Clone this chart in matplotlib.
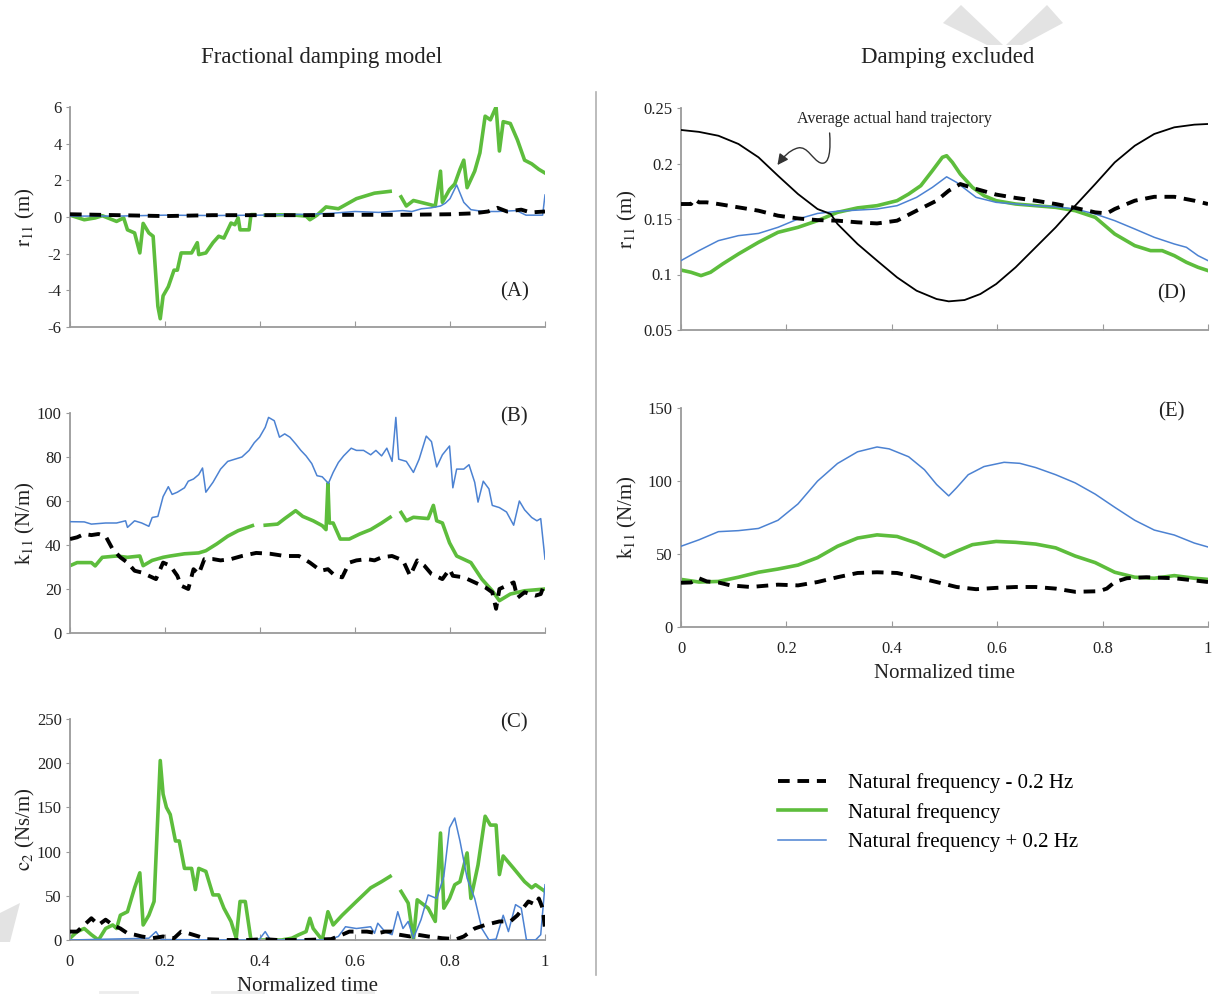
import numpy as np
import matplotlib
matplotlib.use("Agg")
import matplotlib.pyplot as plt
from matplotlib.lines import Line2D
from matplotlib.patches import FancyArrowPatch, Polygon
from matplotlib.path import Path

plt.rcParams["font.family"] = ["Liberation Serif", "DejaVu Serif"]
plt.rcParams["mathtext.fontset"] = "stix"
plt.rcParams["axes.unicode_minus"] = False

nan = np.nan

# ---- (A) r11, fractional damping model ----
a_green_t = [0, .03, .053, .068, .098, .113, .121, .136, .147, .154,
             .166, .175, .185, .19, .196, .207, .219, .226, .234, .256,
             .268, .271, .286, .301, .313, .324, .339, .347, .354, .358,
             .377, .381, .388, .40, .411, .445, .475, .497, .505, .52,
             .539, .565, .603, .641, .674, .685, .697, .708, .723, .754,
             .769, .78, .784, .799, .81, .821, .829, .836, .852, .863,
             .874, .885, .897, .904, .912, .927, .942, .957, .972, .987,
             1.0]
a_green = [0.1, -0.15, -0.05, 0.07, -0.24, -0.05, -0.7, -0.87, -1.96, -0.35,
           -0.87, -1.05, -4.87, -5.55, -4.3, -3.8, -2.9, -2.9, -1.96, -1.96,
           -1.4, -2.05, -1.96, -1.4, -1.05, -1.15, -0.33, -0.42, -0.05, -0.7,
           -0.7, 0.13, 0.13, nan, 0.1, 0.12, 0.1, 0.05, -0.15, 0.1,
           0.55, 0.45, 1.0, 1.3, 1.4, nan, 1.1, 0.6, 0.9, 0.7,
           0.6, 2.5, 0.8, 1.5, 1.8, 2.6, 3.1, 1.6, 2.5, 3.5,
           5.5, 5.3, 6.0, 3.6, 5.2, 5.1, 4.2, 3.1, 2.9, 2.6,
           2.4]
a_blue_t = [0, .1, .2, .3, .4, .5, .55, .6, .65, .7,
            .72, .74, .76, .78, .79, .80, .814, .829, .844, .87,
            .9, .94, .96, .98, .995, 1.0]
a_blue = [0.05, 0.05, 0.1, 0.08, 0.1, 0.15, 0.2, 0.3, 0.25, 0.35,
          0.3, 0.45, 0.5, 0.6, 0.75, 1.0, 1.75, 0.8, 0.4, 0.3,
          0.3, 0.35, 0.1, 0.1, 0.1, 1.2]
a_black_t = [0, .1, .2, .3, .4, .5, .6, .7, .8, .85,
             .88, .9, .92, .95, .97, 1.0]
a_black = [0.15, 0.1, 0.05, 0.1, 0.1, 0.1, 0.12, 0.12, 0.15, 0.2,
           0.3, 0.5, 0.3, 0.4, 0.25, 0.3]

# ---- (B) k11, fractional damping model ----
b_blue_t = [0, .03, .045, .075, .098, .117, .121, .136, .151, .166,
            .173, .185, .196, .207, .215, .226, .241, .249, .26, .271,
            .279, .286, .301, .317, .332, .347, .362, .377, .388, .399,
            .411, .418, .43, .441, .452, .463, .475, .486, .497, .509,
            .52, .531, .544, .554, .565, .576, .592, .603, .618, .633,
            .644, .656, .667, .678, .686, .692, .708, .723, .735, .75,
            .761, .772, .784, .799, .806, .814, .829, .84, .852, .859,
            .87, .882, .889, .904, .919, .934, .946, .957, .972, .983,
            .991, 1.0]
b_blue = [50.6, 50.5, 49.5, 50, 50, 51, 48, 51, 50, 48.5,
          52.5, 53, 62, 66.5, 63, 64, 66, 69, 70, 72,
          75, 64, 68.5, 74.5, 78, 79, 80, 83, 86.5, 89,
          93.5, 98, 96.5, 89, 90.5, 89, 86, 83, 80.5, 77,
          71.5, 71, 68, 73, 77.5, 80.5, 84, 83, 83, 81,
          83, 80.5, 84, 78, 98, 79, 78, 73, 79, 89.5,
          87, 75.5, 81, 85, 66, 74.5, 74.5, 76.5, 68.5, 59.5,
          69, 65.5, 58, 57, 55, 49, 60, 56, 52.5, 51,
          52, 33.6]
b_green_t = [0, .015, .045, .053, .068, .098, .121, .147, .154, .173,
             .196, .211, .241, .271, .286, .309, .332, .354, .384, .398,
             .411, .437, .452, .475, .49, .512, .531, .539, .543, .546,
             .554, .569, .588, .61, .633, .656, .674, .685, .697, .708,
             .723, .754, .765, .772, .784, .799, .814, .844, .867, .889,
             .904, .927, .957, 1.0]
b_green = [30.6, 32, 32, 30.5, 34.4, 35, 34.4, 35, 30.6, 33,
           34.4, 35, 36, 36.4, 37.4, 40.5, 44, 46.5, 48.8, nan,
           49, 49.5, 52, 55.6, 53, 51, 48.8, 47, 68, 50,
           50, 42.7, 42.7, 45, 47, 50, 52.6, nan, 54.8, 51,
           52.6, 52, 58, 51, 50, 41, 35, 32, 24.5, 19.2,
           14.7, 17.7, 19.2, 20]
b_black_t = [0, .015, .03, .045, .06, .075, .09, .106, .121, .136,
             .151, .166, .181, .196, .211, .226, .234, .249, .26, .271,
             .283, .301, .317, .339, .362, .392, .422, .452, .482, .505,
             .528, .543, .558, .573, .588, .603, .625, .641, .656, .678,
             .701, .716, .731, .746, .761, .784, .799, .806, .829, .852,
             .874, .889, .897, .904, .919, .934, .942, .957, .98, .991,
             1.0]
b_black = [42.7, 43.5, 45, 44.5, 45, 44, 38, 34.4, 32, 28.3,
           27.5, 26, 24.5, 32, 30.6, 26, 21.5, 20, 29, 26.8,
           33.6, 33.6, 33, 33.6, 35, 36.4, 36, 35, 35, 32,
           28.3, 29, 26, 25.3, 32, 33, 33.6, 33, 34.4, 35,
           33, 26, 33, 30.6, 26.8, 24.5, 29, 26, 25.3, 23,
           20.8, 18.5, 11, 20, 21.5, 23, 16, 18.5, 17, 17.7,
           23]

# ---- (C) c2, fractional damping model ----
c_green_t = [0, .015, .03, .045, .06, .075, .09, .098, .106, .121,
             .136, .147, .154, .166, .177, .19, .196, .203, .211, .222,
             .23, .241, .256, .264, .271, .286, .301, .313, .324, .339,
             .35, .358, .369, .381, .445, .467, .482, .497, .505, .512,
             .531, .543, .554, .573, .603, .633, .656, .674, .685, .697,
             .712, .723, .731, .754, .769, .78, .787, .799, .81, .821,
             .836, .844, .859, .874, .885, .897, .904, .912, .934, .957,
             .972, .98, 1.0]
c_green = [2, 9.5, 13, 6, 0, 13, 17, 13, 28, 32,
           59, 76, 17, 28, 43.6, 203, 165, 150, 142, 112,
           112, 81, 81, 57, 81, 77.6, 51, 51, 36, 21,
           2, 43.6, 43.6, 0, 0, 2, 6, 9.5, 24.6, 13,
           0, 32, 17, 28, 43.6, 59, 66, 72, nan, 55,
           41.7, 0, 45.5, 36, 21, 121, 36, 47, 62.5, 66,
           98.5, 47, 85, 140, 130, 130, 74, 95, 81, 66,
           59, 62.5, 55]
c_blue_t = [0, .166, .181, .192, .377, .399, .411, .422, .543, .565,
            .58, .603, .633, .641, .648, .663, .678, .69, .701, .712,
            .723, .739, .754, .772, .787, .799, .81, .821, .836, .852,
            .867, .882, .897, .912, .923, .938, .95, .961, .98, .991,
            1.0]
c_blue = [0, 2, 9.5, 0.5, 0, 1, 9.5, 0, 0, 4,
          15, 13, 15, 7.6, 19, 9.5, 6, 32, 13, 21,
          2, 23, 51, 47, 72, 127, 138, 112, 70, 47,
          13, 0, 1, 28, 9.5, 40, 36, 0, 0, 6,
          62.5]
c_black_t = [0, .015, .03, .045, .06, .075, .09, .106, .121, .136,
             .151, .173, .196, .219, .234, .249, .271, .286, .332, .377,
             .407, .437, .49, .55, .573, .588, .603, .625, .648, .663,
             .678, .693, .716, .731, .754, .784, .814, .829, .852, .874,
             .904, .927, .942, .965, .98, .987, .995, 1.0]
c_black = [9.5, 9.5, 17, 24.6, 17, 23, 17, 13, 7.6, 6,
           4, 2, 4, 2, 9.5, 7.6, 4, 1, 0, 0,
           1, 0, 0, 1, 6, 9.5, 9.5, 9.5, 7.6, 9.5,
           9.5, 6, 4, 6, 4, 2, 1, 4, 13, 17,
           21, 21, 28, 43.6, 40, 47, 36, 13]

# ---- (D) r11, damping excluded ----
hand_t = [0, .034, .071, .109, .147, .184, .222, .259, .284, .297,
          .335, .372, .41, .447, .485, .508, .538, .568, .598, .635,
          .673, .711, .748, .786, .823, .861, .898, .936, .974, 1.0]
hand_r = [.2302, .2285, .225, .2176, .2056, .189, .1725, .159, .1545, .1455,
          .1275, .1125, .0974, .0854, .0779, .0758, .077, .0824, .0914, .1065,
          .1245, .1425, .162, .1815, .201, .216, .2266, .2326, .235, .2356]
d_green_t = [0, .019, .038, .056, .079, .109, .147, .184, .222, .259,
             .297, .335, .372, .41, .432, .455, .477, .496, .504, .515,
             .53, .553, .575, .598, .635, .673, .711, .748, .786, .823,
             .861, .891, .913, .936, .959, .981, 1.0]
d_green = [.104, .102, .099, .102, .1095, .1185, .129, .138, .1425, .1485,
           .156, .160, .162, .1665, .1725, .180, .1935, .2056, .207, .201,
           .1905, .1785, .171, .1665, .1635, .162, .1605, .1575, .1515, .1365,
           .126, .1215, .1215, .117, .111, .1065, .1035]
d_blue_t = [0, .034, .071, .109, .147, .184, .222, .259, .297, .372,
            .41, .447, .477, .504, .523, .56, .598, .635, .673, .711,
            .748, .786, .823, .861, .898, .936, .959, .981, 1.0]
d_blue = [.1125, .1215, .1305, .135, .137, .1425, .150, .155, .157, .159,
          .162, .1695, .1785, .188, .183, .1695, .165, .1635, .162, .161,
          .159, .1545, .1485, .141, .1335, .1275, .1245, .117, .1125]
d_black_t = [0, .019, .026, .034, .049, .071, .109, .147, .184, .222,
             .259, .297, .335, .372, .41, .447, .485, .508, .53, .553,
             .598, .635, .673, .711, .748, .786, .808, .823, .861, .898,
             .936, .974, 1.0]
d_black = [.1635, .1635, .168, .165, .165, .1635, .1605, .1575, .153, .1505,
           .149, .1485, .147, .146, .1485, .1575, .1665, .1755, .1815, .178,
           .172, .169, .1665, .1635, .160, .156, .155, .159, .1665, .170,
           .170, .1665, .1635]

# ---- (E) k11, damping excluded ----
e_blue_t = [0, .034, .071, .109, .147, .184, .222, .259, .297, .335,
            .372, .395, .432, .462, .485, .508, .523, .545, .575, .613,
            .643, .673, .711, .748, .786, .823, .861, .898, .936, .974,
            1.0]
e_blue = [55.3, 59.7, 65.3, 66, 67.5, 73.1, 84.3, 99.9, 112, 120,
          123.3, 122, 116.6, 107.7, 97.6, 89.8, 95.4, 104.3, 109.9, 112.8,
          112.1, 109.2, 104.3, 98.7, 91, 82, 73.1, 66.4, 63, 57.5,
          54.8]
e_green_t = [0, .034, .071, .109, .147, .184, .222, .259, .297, .335,
             .372, .41, .447, .485, .5, .523, .553, .598, .635, .673,
             .711, .748, .786, .823, .861, .898, .936, .974, 1.0]
e_green = [32.6, 30.8, 31.2, 34.1, 37.5, 39.7, 42.4, 47.5, 55.3, 60.9,
           63.1, 62, 57.5, 50.8, 48.1, 51.9, 56.4, 58.6, 58, 56.8,
           54.2, 48.6, 44.1, 37.5, 34.1, 33.4, 35.2, 33.4, 32.6]
e_black_t = [0, .019, .034, .049, .071, .094, .132, .184, .222, .259,
             .297, .335, .372, .41, .447, .485, .523, .56, .598, .635,
             .673, .711, .748, .793, .808, .823, .846, .883, .936, .974,
             1.0]
e_black = [30.3, 30.5, 33.4, 31.2, 30.5, 28.5, 27.4, 29, 28.5, 30.8,
           34.1, 37, 37.5, 37, 34.1, 30.8, 27.4, 25.9, 26.8, 27.4,
           27.4, 26.3, 24.1, 24.5, 26.3, 30.8, 33.4, 34.1, 33.4, 31.9,
           30.8]

series_labels = ["Natural frequency - 0.2 Hz", "Natural frequency",
                 "Natural frequency + 0.2 Hz"]

GREEN = "#5dbd3c"
BLUE = "#4c82d2"
SPINE = "#9a9a9a"
TXT = "#222222"

W, H = 1220, 994
fig = plt.figure(figsize=(W / 100, H / 100), dpi=100)


def px_axes(x0, x1, y0, y1):
    # axes placed by pixel box (left, right, top, bottom)
    return fig.add_axes([x0 / W, 1 - y1 / H, (x1 - x0) / W, (y1 - y0) / H])


def style(ax, ylim, yticks, ylabels, show_x=False):
    ax.set_xlim(0, 1)
    ax.set_ylim(*ylim)
    for s in ("top", "right"):
        ax.spines[s].set_visible(False)
    for s in ("left", "bottom"):
        ax.spines[s].set_color(SPINE)
        ax.spines[s].set_linewidth(1.3)
    ax.set_xticks([0, .2, .4, .6, .8, 1])
    ax.set_yticks(yticks)
    ax.set_yticklabels(ylabels)
    if show_x:
        ax.set_xticklabels(["0", "0.2", "0.4", "0.6", "0.8", "1"])
        ax.set_xlabel("Normalized time", fontsize=15, color=TXT, labelpad=5)
    else:
        ax.set_xticklabels([])
    ax.tick_params(axis="x", direction="in", length=4, color=SPINE,
                   labelsize=12, labelcolor=TXT, pad=10)
    ax.tick_params(axis="y", direction="out", length=3, color=SPINE,
                   labelsize=12, labelcolor=TXT, pad=3)


def draw(ax, tb, vb, tg, vg, tl, vl):
    ax.plot(tl, vl, color=BLUE, lw=1.1, label=series_labels[2], zorder=3)
    ax.plot(tg, vg, color=GREEN, lw=2.6, label=series_labels[1], zorder=2)
    ax.plot(tb, vb, color="black", lw=2.8, dashes=(3, 2),
            label=series_labels[0], zorder=4)


axA = px_axes(70, 545, 107, 327)
draw(axA, a_black_t, a_black, a_green_t, a_green, a_blue_t, a_blue)
style(axA, (-6, 6), [-6, -4, -2, 0, 2, 4, 6], ["-6", "-4", "-2", "0", "2", "4", "6"])
axA.set_ylabel("$\\mathrm{r_{11}}$ (m)", fontsize=15, color=TXT)
axA.text(0.935, 0.14, "(A)", transform=axA.transAxes, fontsize=15, ha="center", color=TXT)

axB = px_axes(70, 545, 413, 633)
draw(axB, b_black_t, b_black, b_green_t, b_green, b_blue_t, b_blue)
style(axB, (0, 100), [0, 20, 40, 60, 80, 100], ["0", "20", "40", "60", "80", "100"])
axB.set_ylabel("$\\mathrm{k_{11}}$ (N/m)", fontsize=15, color=TXT)
axB.text(0.935, 0.96, "(B)", transform=axB.transAxes, fontsize=15, ha="center", color=TXT)

axC = px_axes(70, 545, 719, 940)
draw(axC, c_black_t, c_black, c_green_t, c_green, c_blue_t, c_blue)
style(axC, (0, 250), [0, 50, 100, 150, 200, 250], ["0", "50", "100", "150", "200", "250"], show_x=True)
axC.set_ylabel("$\\mathrm{c_{2}}$ (Ns/m)", fontsize=15, color=TXT)
axC.text(0.935, 0.96, "(C)", transform=axC.transAxes, fontsize=15, ha="center", color=TXT)

axD = px_axes(681, 1208, 108, 330)
axD.plot(hand_t, hand_r, color="black", lw=1.3, zorder=5)
draw(axD, d_black_t, d_black, d_green_t, d_green, d_blue_t, d_blue)
style(axD, (0.05, 0.25), [0.05, 0.1, 0.15, 0.2, 0.25], ["0.05", "0.1", "0.15", "0.2", "0.25"])
axD.set_ylabel("$\\mathrm{r_{11}}$ (m)", fontsize=15, color=TXT)
axD.text(0.93, 0.14, "(D)", transform=axD.transAxes, fontsize=15, ha="center", color=TXT)
axD.text(0.405, 0.2405, "Average actual hand trajectory", fontsize=11.5,
         ha="center", va="center", color=TXT)
arrow_path = Path(
    [(0.282, 0.2275), (0.284, 0.214), (0.283, 0.198), (0.265, 0.2005),
     (0.25, 0.203), (0.24, 0.216), (0.222, 0.214),
     (0.205, 0.212), (0.193, 0.205), (0.183, 0.1986)],
    [Path.MOVETO, Path.CURVE4, Path.CURVE4, Path.CURVE4,
     Path.CURVE4, Path.CURVE4, Path.CURVE4,
     Path.CURVE4, Path.CURVE4, Path.CURVE4])
axD.add_patch(FancyArrowPatch(path=arrow_path, arrowstyle="-|>", mutation_scale=16,
                              color="#333333", lw=1.0))

axE = px_axes(681, 1208, 408, 627)
draw(axE, e_black_t, e_black, e_green_t, e_green, e_blue_t, e_blue)
style(axE, (0, 150), [0, 50, 100, 150], ["0", "50", "100", "150"], show_x=True)
axE.set_ylabel("$\\mathrm{k_{11}}$ (N/m)", fontsize=15, color=TXT)
axE.text(0.93, 0.96, "(E)", transform=axE.transAxes, fontsize=15, ha="center", color=TXT)

for ax in (axA, axB, axC):
    ax.yaxis.set_label_coords(-0.07, 0.5)
for ax in (axD, axE):
    ax.yaxis.set_label_coords(-0.08, 0.5)

fig.text(322 / W, 1 - 58 / H, "Fractional damping model", fontsize=16.5,
         ha="center", va="center", color=TXT)
fig.text(948 / W, 1 - 58 / H, "Damping excluded", fontsize=16.5,
         ha="center", va="center", color=TXT)

# divider between the two columns
fig.add_artist(Line2D([596 / W, 596 / W], [1 - 92 / H, 1 - 975 / H],
                      color="#b0b0b0", lw=1.2))

# faint chevron marks in the margins
for pts in ([(943, 23), (961, 5), (1003, 45), (987, 45)],
            [(1006, 45), (1047, 5), (1063, 23), (1022, 45)],
            [(0, 913), (20, 903), (10, 942), (0, 942)]):
    fig.add_artist(Polygon([(x / W, 1 - y / H) for x, y in pts], closed=True,
                           transform=fig.transFigure, facecolor="#e3e3e3",
                           edgecolor="none", zorder=0))
for x0, x1 in ((100, 137), (212, 263), (357, 373)):
    fig.add_artist(Line2D([x0 / W, x1 / W], [1 - 992 / H, 1 - 992 / H],
                          color="#ececec", lw=2))

handles, labels = axE.get_legend_handles_labels()
order = [labels.index(s) for s in series_labels]
fig.legend([handles[i] for i in order], [labels[i] for i in order],
           loc="upper left", bbox_to_anchor=(770 / W, 1 - 765 / H),
           frameon=False, fontsize=15, handlelength=2.3, handletextpad=1.05,
           labelspacing=0.45, borderaxespad=0)

fig.savefig("out.png", dpi=100)
